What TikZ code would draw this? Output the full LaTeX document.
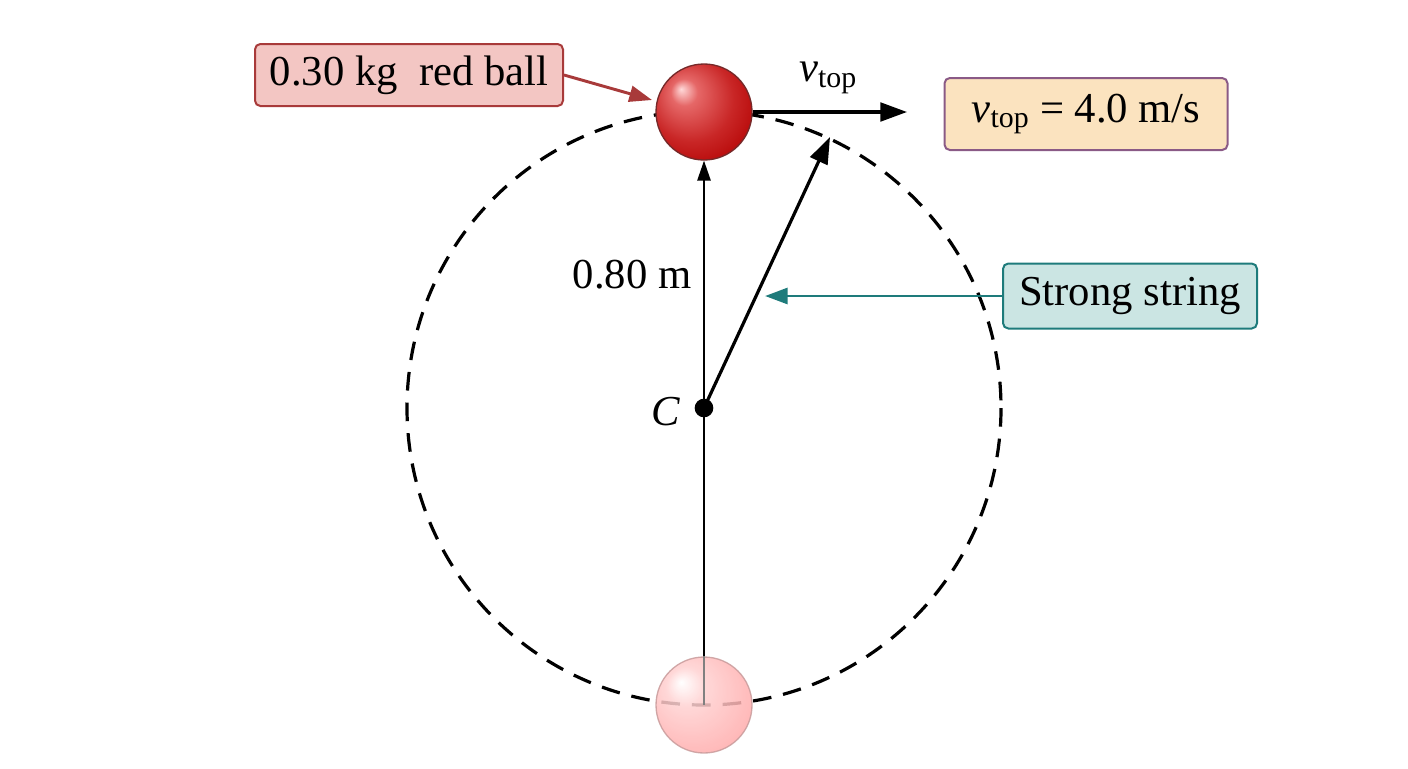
\documentclass[tikz,border=0pt]{standalone}
\usepackage{fontspec}
\setmainfont{Liberation Serif}
\usetikzlibrary{arrows.meta}
\pgfdeclareradialshading{redballsh}{\pgfpoint{-12bp}{12bp}}{color(0bp)=(red!15!white); color(7bp)=(red!55!white!90!black); color(22bp)=(red!75!black!85!white); color(36bp)=(red!70!black); color(50bp)=(red!55!black)}
\pgfdeclareradialshading{pinkballsh}{\pgfpoint{-12bp}{12bp}}{color(0bp)=(white); color(10bp)=(red!18!white); color(30bp)=(red!32!white); color(50bp)=(red!40!white!90!black)}
\begin{document}
\begin{tikzpicture}[x=0.75pt,y=-0.75pt,
  lbl/.style={rounded corners=4pt,line width=1.5pt,inner sep=0pt,font=\fontsize{32}{36}\selectfont},
  arr/.style={-{Triangle[length=20pt,width=14pt]},line width=2.4pt},
  thin arr/.style={-{Triangle[length=15pt,width=10pt]},line width=1.3pt}]
\useasboundingbox (0,0) rectangle (1408,768);
\definecolor{redb}{HTML}{A83A3A}\definecolor{redf}{HTML}{F3C6C3}
\definecolor{orf}{HTML}{FBE3BF}\definecolor{purb}{HTML}{8A5A86}
\definecolor{tealb}{HTML}{1E7B7B}\definecolor{tealf}{HTML}{CBE5E3}
\coordinate (C) at (704,408);
\draw[line width=2.4pt,dash pattern=on 14pt off 9pt] (C) circle (297);
% bottom ball
\node[circle,minimum size=72pt,inner sep=0pt,draw=red!30!gray!60,line width=1pt,
  shading=pinkballsh,opacity=0.85] (bb) at (704,705) {};
\draw[line width=1.3pt,black!50] (bb.north) -- (bb.center);
\draw[line width=1.3pt] (bb.north) -- (C);
% top ball
\node[circle,minimum size=72pt,inner sep=0pt,draw=redb!70!black,line width=1pt,
  shading=redballsh] (tb) at (704,112) {};
\draw[thin arr] (C) -- (tb.south);
\fill (C) circle (7pt);
\node[font=\fontsize{32}{36}\selectfont\itshape] (cl) at (666,412) {C};
\node[font=\fontsize{32}{36}\selectfont] (len) at (632,275) {0.80 m};
\coordinate (se) at (830,137);
\draw[arr] (C) -- (se);
\coordinate (ve) at (907,112);
\draw[arr] (tb.east) -- (ve);
\node[font=\fontsize{32}{36}\selectfont] (vl) at (828,78) {\textit{v}\textsubscript{top}};
\node[lbl,draw=redb,fill=redf,minimum width=308pt*0.75,minimum height=62pt*0.75] (rb) at (409,75) {0.30 kg\ \ red ball};
\draw[-{Triangle[length=17pt,width=12pt]},line width=2.2pt,redb] (rb.east) -- (652,100);
\node[lbl,draw=purb,fill=orf,minimum width=283pt*0.75,minimum height=72pt*0.75] (vb) at (1086,114) {\textit{v}\textsubscript{top} = 4.0 m/s};
\node[lbl,draw=tealb,fill=tealf,minimum width=254pt*0.75,minimum height=65pt*0.75] (sb) at (1130,296) {Strong string};
\coordinate (se2) at (765,296);
\draw[-{Triangle[length=17pt,width=12pt]},line width=2.2pt,tealb] (sb.west) -- (se2);
\end{tikzpicture}
\end{document}
